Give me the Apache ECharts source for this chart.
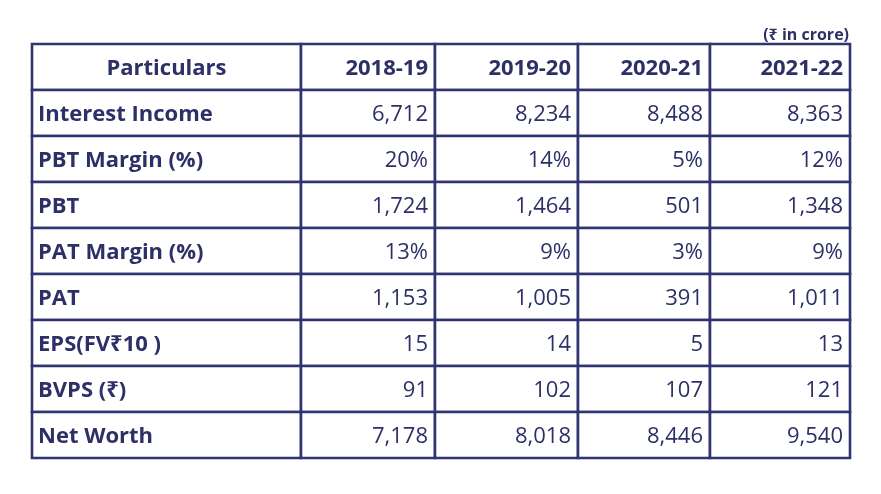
<!DOCTYPE html>
<html>
<head>
<meta charset="utf-8">
<script src="https://cdn.jsdelivr.net/npm/echarts@6/dist/echarts.min.js"></script>
<style>html,body{margin:0;padding:0;background:#fff}#c{width:881px;height:494px}</style>
</head>
<body>
<div id="c"></div>
<script>
// ---- data ----
var headerLabel = 'Particulars';
var years = ['2018-19', '2019-20', '2020-21', '2021-22'];
var particulars = ['Interest Income', 'PBT Margin (%)', 'PBT', 'PAT Margin (%)', 'PAT', 'EPS(FV₹10 )', 'BVPS (₹)', 'Net Worth'];
var interestIncome = [6712, 8234, 8488, 8363];
var pbtMargin = [20, 14, 5, 12];
var pbt = [1724, 1464, 501, 1348];
var patMargin = [13, 9, 3, 9];
var pat = [1153, 1005, 391, 1011];
var eps = [15, 14, 5, 13];
var bvps = [91, 102, 107, 121];
var netWorth = [7178, 8018, 8446, 9540];
var unitNote = '(₹ in crore)';

// ---- layout (not data) ----
var colEdges = [0, 269, 403, 546, 678, 818];
var LINE = '#2f3571';
var TEXT = '#2c3067';
var FONT = '"Open Sans", "Noto Sans", "DejaVu Sans", sans-serif';

var rowsValues = [interestIncome, pbtMargin, pbt, patMargin, pat, eps, bvps, netWorth];
var pctRows = {1: true, 3: true};
function fmt(v, pct) {
  var s = v.toLocaleString('en-US');
  return pct ? s + '%' : s;
}

var rowCats = ['header'].concat(particulars);
var cells = [];
cells.push([0, 0, headerLabel, 1, 'center']);
years.forEach(function (y, j) { cells.push([j + 1, 0, y, 1, 'right']); });
particulars.forEach(function (p, i) {
  cells.push([0, i + 1, p, 1, 'left']);
  rowsValues[i].forEach(function (v, j) {
    cells.push([j + 1, i + 1, fmt(v, pctRows[i]), 0, 'right']);
  });
});

var chart = echarts.init(document.getElementById('c'));
chart.setOption({
  backgroundColor: '#fff',
  animation: false,
  title: {
    text: unitNote,
    right: 27,
    top: 22,
    textStyle: { fontFamily: FONT, fontSize: 16, fontWeight: 'bold', color: TEXT }
  },
  grid: { left: 32, top: 44, width: 818, height: 414 },
  xAxis: { type: 'value', min: 0, max: 818, show: false },
  yAxis: { type: 'category', data: rowCats, inverse: true, show: false },
  series: [{
    type: 'custom',
    data: cells,
    renderItem: function (params, api) {
      var col = api.value(0);
      var row = api.value(1);
      var d = cells[params.dataIndex];
      var c = api.coord([0, row]);
      var h = api.size([0, 1])[1];
      var x0 = api.coord([colEdges[col], row])[0];
      var x1 = api.coord([colEdges[col + 1], row])[0];
      var y0 = c[1] - h / 2;
      var align = d[4];
      var tx = align === 'left' ? x0 + 6 : (align === 'right' ? x1 - 7 : (x0 + x1) / 2);
      return {
        type: 'group',
        children: [
          { type: 'rect', shape: { x: x0, y: y0, width: x1 - x0, height: h },
            style: { fill: '#fff', stroke: LINE, lineWidth: 2.6 } },
          { type: 'text', z2: 10, style: {
              x: tx, y: c[1] + 2, text: d[2], align: align, verticalAlign: 'middle',
              fontFamily: FONT, fontSize: 22, fontWeight: d[3] ? 'bold' : 'normal', fill: TEXT } }
        ]
      };
    }
  }]
});
</script>
</body>
</html>
